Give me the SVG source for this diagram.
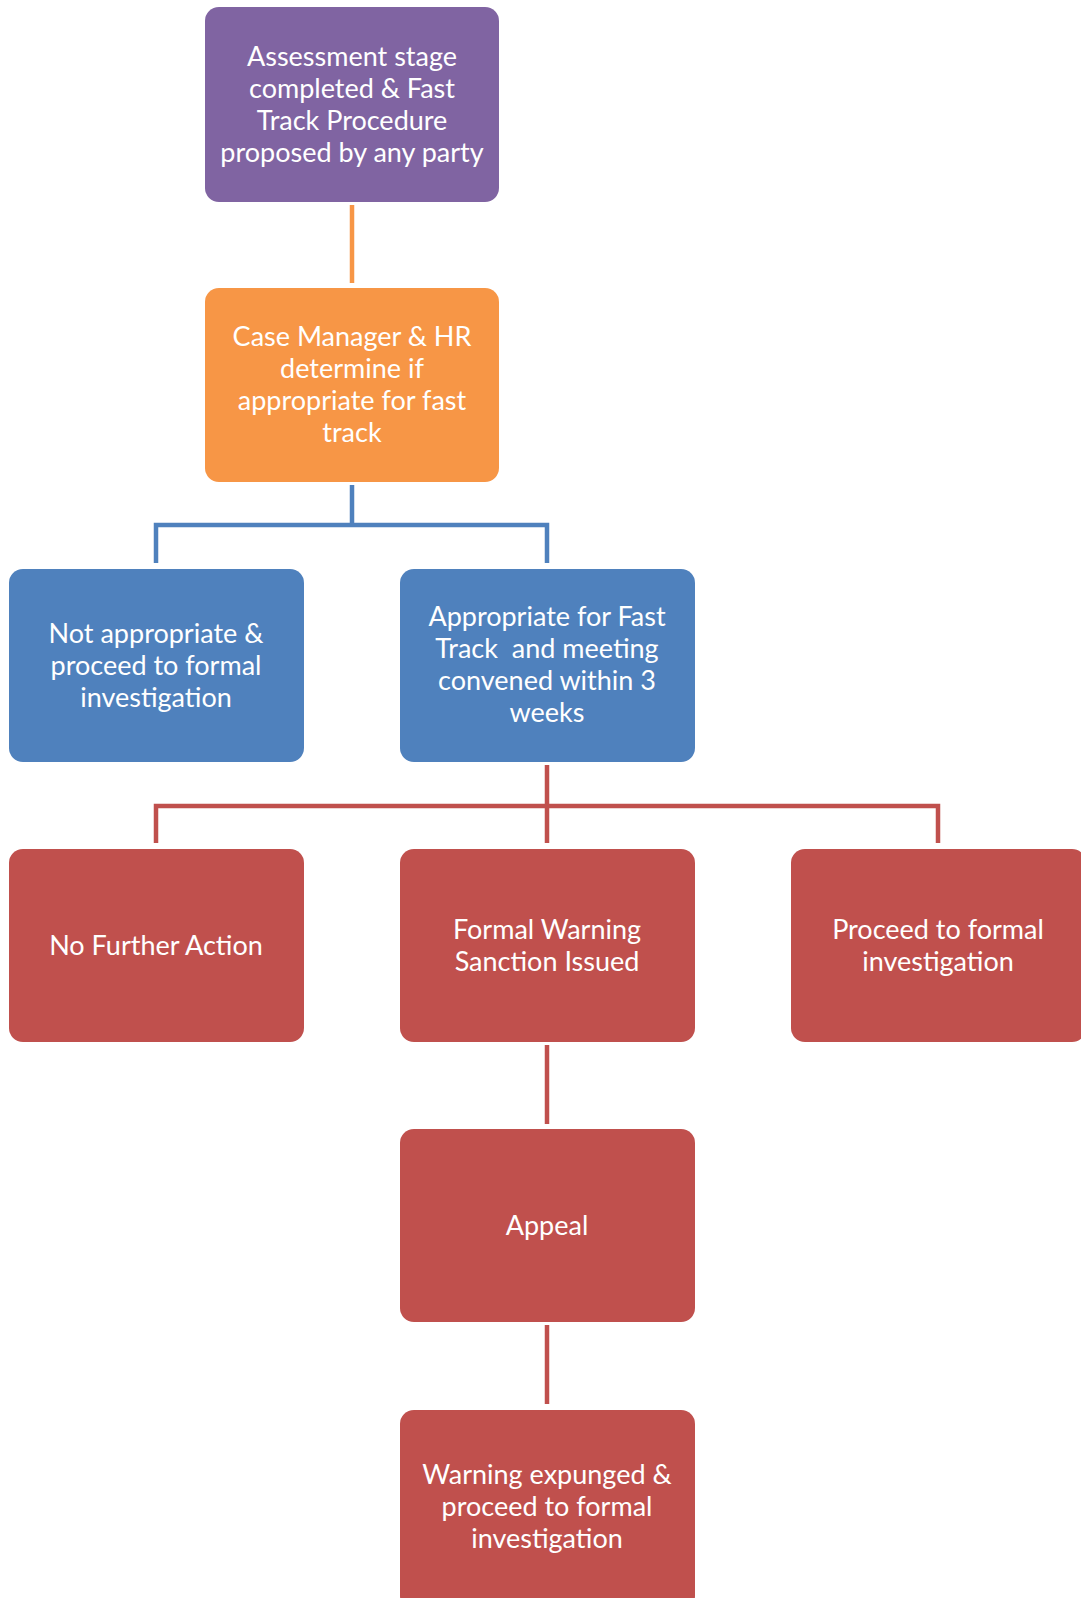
<svg xmlns="http://www.w3.org/2000/svg" width="1081" height="1598" viewBox="0 0 1081 1598">
<style>
.box{stroke:none}
.t{font-family:Lato,"Open Sans","Liberation Sans",sans-serif;font-size:27px;fill:#ffffff;text-anchor:middle}
.c{fill:none;stroke-width:4.5}
</style>
<rect width="1081" height="1598" fill="#ffffff"/>
<g id="connectors">
<path class="c" stroke="#F79646" d="M352 205 V283"/>
<path class="c" stroke="#4F81BD" d="M352 485 V525 M156 563 V525 H547 V563"/>
<path class="c" stroke="#C0504D" d="M547 765 V843 M156 843 V806 H938 V843"/>
<path class="c" stroke="#C0504D" d="M547 1045 V1124"/>
<path class="c" stroke="#C0504D" d="M547 1325 V1404"/>
</g>
<g id="n1"><rect class="box" x="205" y="7" width="294" height="195" rx="14" fill="#8064A2"/>
<text class="t"><tspan x="352" y="66">Assessment stage</tspan><tspan x="352" y="98">completed &amp; Fast</tspan><tspan x="352" y="130">Track Procedure</tspan><tspan x="352" y="162">proposed by any party</tspan></text></g>
<g id="n2"><rect class="box" x="205" y="288" width="294" height="194" rx="14" fill="#F79646"/>
<text class="t"><tspan x="352" y="346">Case Manager &amp; HR</tspan><tspan x="352" y="378">determine if</tspan><tspan x="352" y="410">appropriate for fast</tspan><tspan x="352" y="442">track</tspan></text></g>
<g id="n3"><rect class="box" x="9" y="569" width="295" height="193" rx="14" fill="#4F81BD"/>
<text class="t"><tspan x="156" y="643">Not appropriate &amp;</tspan><tspan x="156" y="675">proceed to formal</tspan><tspan x="156" y="707">investigation</tspan></text></g>
<g id="n4"><rect class="box" x="400" y="569" width="295" height="193" rx="14" fill="#4F81BD"/>
<text class="t" xml:space="preserve"><tspan x="547" y="626">Appropriate for Fast</tspan><tspan x="547" y="658">Track  and meeting</tspan><tspan x="547" y="690">convened within 3</tspan><tspan x="547" y="722">weeks</tspan></text></g>
<g id="n5"><rect class="box" x="9" y="849" width="295" height="193" rx="14" fill="#C0504D"/>
<text class="t"><tspan x="156" y="955">No Further Action</tspan></text></g>
<g id="n6"><rect class="box" x="400" y="849" width="295" height="193" rx="14" fill="#C0504D"/>
<text class="t"><tspan x="547" y="939">Formal Warning</tspan><tspan x="547" y="971">Sanction Issued</tspan></text></g>
<g id="n7"><rect class="box" x="791" y="849" width="295" height="193" rx="14" fill="#C0504D"/>
<text class="t"><tspan x="938" y="939">Proceed to formal</tspan><tspan x="938" y="971">investigation</tspan></text></g>
<g id="n8"><rect class="box" x="400" y="1129" width="295" height="193" rx="14" fill="#C0504D"/>
<text class="t"><tspan x="547" y="1235">Appeal</tspan></text></g>
<g id="n9"><rect class="box" x="400" y="1410" width="295" height="200" rx="14" fill="#C0504D"/>
<text class="t"><tspan x="547" y="1484">Warning expunged &amp;</tspan><tspan x="547" y="1516">proceed to formal</tspan><tspan x="547" y="1548">investigation</tspan></text></g>
</svg>
